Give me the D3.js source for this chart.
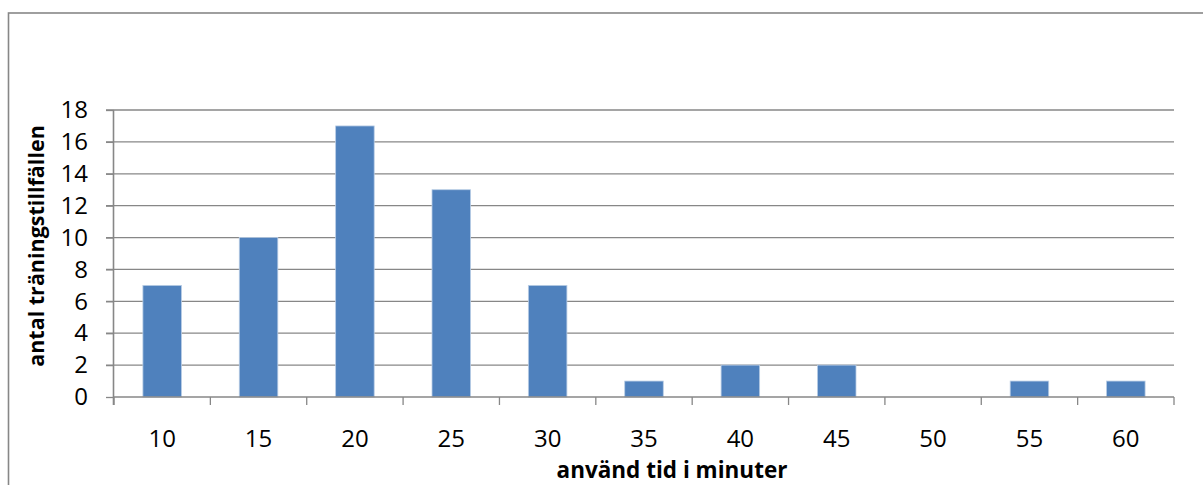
<!DOCTYPE html>
<html>
<head>
<meta charset="utf-8">
<script src="https://cdn.jsdelivr.net/npm/d3@7"></script>
<style>
    body { margin: 0; background: #fff; }
    svg { display: block; }
    text { font-family: "Open Sans", "Noto Sans", sans-serif; fill: #000; }
</style>
</head>
<body>
<div id="chart"></div>
<script>
const minutes = ["10", "15", "20", "25", "30", "35", "40", "45", "50", "55", "60"];
const sessions = [7, 10, 17, 13, 7, 1, 2, 2, 0, 1, 1];
const yTicks = [0, 2, 4, 6, 8, 10, 12, 14, 16, 18];

const width = 1203, height = 485;
const margin = { top: 110, right: 29, bottom: 88, left: 114 };
const innerW = width - margin.left - margin.right;
const innerH = height - margin.top - margin.bottom;

const svg = d3.select("#chart")
    .append("svg")
    .attr("width", width)
    .attr("height", height);

// outer chart frame (runs off right and bottom edges)
svg.append("rect")
    .attr("x", 8.5)
    .attr("y", 13)
    .attr("width", 1210)
    .attr("height", 500)
    .attr("fill", "none")
    .attr("stroke", "#878787")
    .attr("stroke-width", 1.6);

const g = svg.append("g")
    .attr("transform", `translate(${margin.left},${margin.top})`);

const x = d3.scaleBand()
    .domain(minutes)
    .range([0, innerW])
    .paddingInner(0.6)
    .paddingOuter(0.3);

const y = d3.scaleLinear()
    .domain([0, 18])
    .range([innerH, 0]);

// gridlines
g.append("g")
    .selectAll("line")
    .data(yTicks.filter(d => d > 0))
    .enter().append("line")
    .attr("x1", -8)
    .attr("x2", innerW)
    .attr("y1", d => y(d))
    .attr("y2", d => y(d))
    .attr("stroke", "#878787")
    .attr("stroke-width", 1.3);

// bars
g.append("g")
    .selectAll("rect")
    .data(sessions)
    .enter().append("rect")
    .attr("x", (d, i) => x(minutes[i]))
    .attr("y", d => y(d))
    .attr("width", x.bandwidth())
    .attr("height", d => innerH - y(d))
    .attr("fill", "#4F81BD")
    .attr("stroke", "#B9CDE5")
    .attr("stroke-width", 0.8);

// y axis
const yAxis = g.append("g")
    .call(d3.axisLeft(y).tickValues(yTicks).tickSize(8).tickPadding(18));
yAxis.select(".domain").attr("stroke", "#878787").attr("stroke-width", 1.6)
    .attr("d", `M-0.5,${innerH + 8}V0`);
yAxis.selectAll(".tick line").attr("stroke", "#878787").attr("stroke-width", 1.3);
yAxis.selectAll(".tick text")
    .style("font-family", "'Open Sans', sans-serif")
    .style("font-size", "24px");

// x axis
const step = x.step();
const xAxis = g.append("g")
    .attr("transform", `translate(0,${innerH})`);
xAxis.append("line")
    .attr("x1", 0).attr("x2", innerW)
    .attr("y1", 0).attr("y2", 0)
    .attr("stroke", "#878787")
    .attr("stroke-width", 1.6);
xAxis.selectAll(".xtick")
    .data(d3.range(minutes.length + 1))
    .enter().append("line")
    .attr("class", "xtick")
    .attr("x1", i => i * step)
    .attr("x2", i => i * step)
    .attr("y1", 0)
    .attr("y2", 8)
    .attr("stroke", "#878787")
    .attr("stroke-width", 1.3);
xAxis.selectAll(".xlabel")
    .data(minutes)
    .enter().append("text")
    .attr("class", "xlabel")
    .attr("x", d => x(d) + x.bandwidth() / 2)
    .attr("y", 50.3)
    .attr("text-anchor", "middle")
    .style("font-size", "24px")
    .text(d => d);

// axis titles
svg.append("text")
    .attr("x", 672)
    .attr("y", 478)
    .attr("text-anchor", "middle")
    .style("font-size", "22.5px")
    .style("font-weight", "bold")
    .text("använd tid i minuter");

svg.append("text")
    .attr("transform", "translate(44,246) rotate(-90)")
    .attr("text-anchor", "middle")
    .style("font-size", "21.5px")
    .style("font-weight", "bold")
    .text("antal träningstillfällen");
</script>
</body>
</html>
